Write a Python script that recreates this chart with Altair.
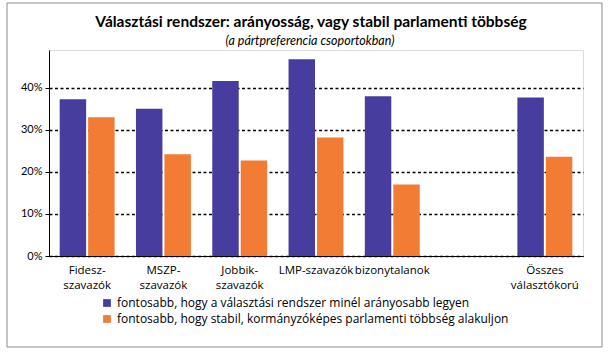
import altair as alt
import pandas as pd

categories = ["Fidesz-\nszavazók", "MSZP-\nszavazók", "Jobbik-\nszavazók", "LMP-szavazók",
              "bizonytalanok", " ", "Összes\nválasztókorú"]
series = ["fontosabb, hogy a választási rendszer minél arányosabb legyen",
          "fontosabb, hogy stabil, kormányzóképes parlamenti többség alakuljon"]
prop_values = [0.373, 0.350, 0.416, 0.468, 0.380, None, 0.377]
stab_values = [0.330, 0.242, 0.227, 0.282, 0.170, None, 0.236]
colors = ["#473D9E", "#F27C33"]
title_text = "Választási rendszer: arányosság, vagy stabil parlamenti többség"
subtitle_text = "(a pártpreferencia csoportokban)"

rows = []
for c, a, b in zip(categories, prop_values, stab_values):
    rows.append({"cat": c, "series": series[0], "value": a})
    rows.append({"cat": c, "series": series[1], "value": b})
df = pd.DataFrame(rows)
tdf = pd.DataFrame({"t": [title_text], "s": [subtitle_text]})

FONT = "Lato"
LFONT = "Open Sans"
W, H = 534, 206

bars = alt.Chart(df).mark_bar().encode(
    x=alt.X("cat:N", sort=categories, title=None,
            scale=alt.Scale(paddingInner=0.28, paddingOuter=0.14),
            axis=alt.Axis(labelAngle=0, ticks=False, domainColor="#000000", domainWidth=1,
                          labelExpr="split(datum.label, '\\n')", labelFontSize=11.5,
                          labelColor="#000000", labelPadding=8, labelLineHeight=15,
                          labelFont=LFONT, grid=False, labelLimit=0)),
    xOffset=alt.XOffset("series:N", sort=series, scale=alt.Scale(paddingInner=0.07)),
    y=alt.Y("value:Q", title=None,
            scale=alt.Scale(domain=[0, 0.49], nice=False),
            axis=alt.Axis(format=".0%", values=[0, 0.1, 0.2, 0.3, 0.4], grid=True,
                          gridColor="#000000", gridDash=[3, 2.5], gridWidth=1.5,
                          domainColor="#000000", tickColor="#000000", tickSize=4,
                          labelFontSize=11, labelColor="#000000", labelFont=FONT,
                          labelPadding=3)),
    color=alt.Color("series:N", sort=series,
                    scale=alt.Scale(domain=series, range=colors),
                    legend=alt.Legend(title=None, orient="none", legendX=52, legendY=247,
                                      direction="vertical", symbolType="square",
                                      symbolSize=60, symbolStrokeWidth=0, labelLimit=0,
                                      labelFontSize=12, labelFont=LFONT,
                                      labelColor="#000000", rowPadding=4)),
)

frame = alt.Chart(tdf).mark_rect(fill=None, stroke="#8C8C8C", strokeWidth=1).encode(
    x=alt.value(-42), x2=alt.value(553), y=alt.value(-47), y2=alt.value(297)
)

title = alt.Chart(tdf).mark_text(font=FONT, fontSize=15.5, fontWeight="bold",
                                 color="#000000", align="center", baseline="middle").encode(
    x=alt.value(W / 2 - 5), y=alt.value(-28), text="t:N"
)
subtitle = alt.Chart(tdf).mark_text(font=FONT, fontSize=12.5, fontStyle="italic",
                                    color="#000000", align="center", baseline="middle").encode(
    x=alt.value(W / 2 - 6), y=alt.value(-9), text="s:N"
)

chart = alt.layer(frame, bars, title, subtitle).properties(
    width=W, height=H,
    autosize=alt.AutoSizeParams(type="none"),
    padding={"left": 49, "top": 50, "right": 25, "bottom": 96},
).configure_view(stroke=None).configure(background="white")

chart.save("out.html", embed_options={"renderer": "svg", "actions": False})
